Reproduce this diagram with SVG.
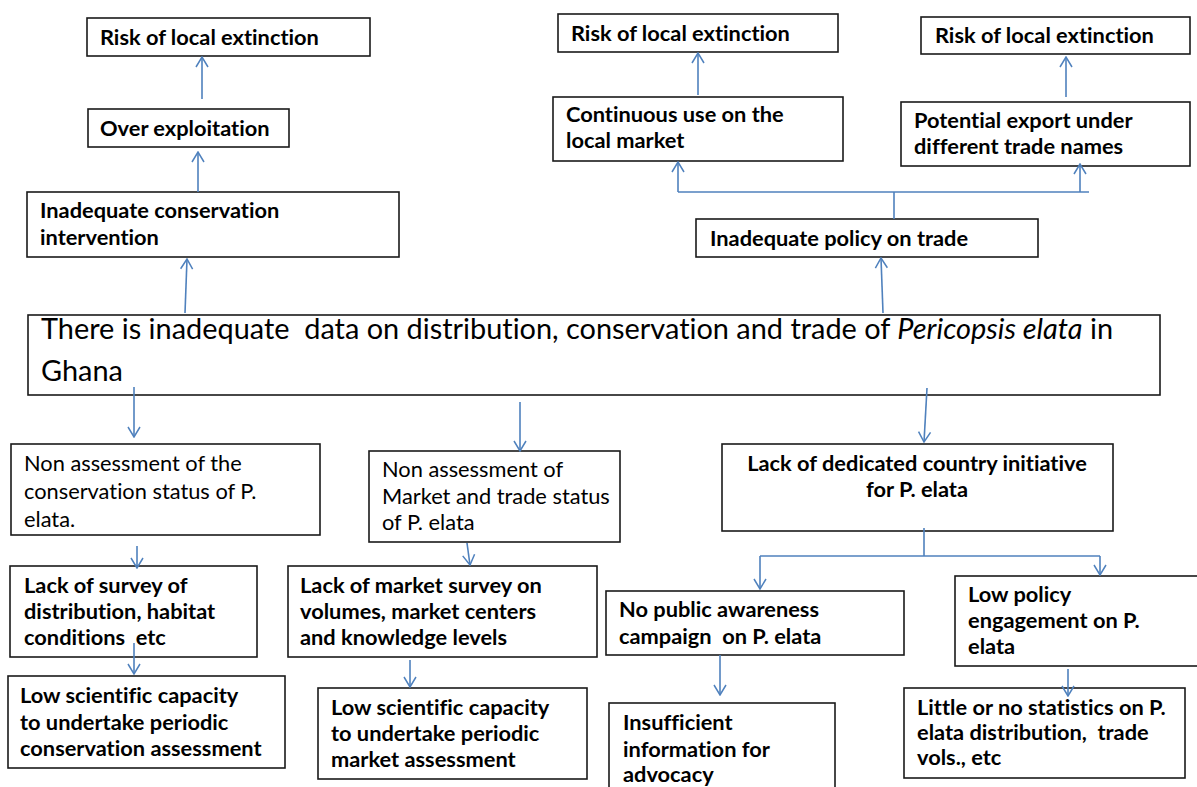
<svg xmlns="http://www.w3.org/2000/svg" width="1197" height="787" viewBox="0 0 1197 787">
<defs>
<marker id="ah" viewBox="-11 -7 12 14" refX="0" refY="0" markerWidth="12" markerHeight="14" markerUnits="userSpaceOnUse" orient="auto">
<path d="M-10,-6 L0,0 L-10,6" fill="none" stroke="#4f81bd" stroke-width="1.5"/>
</marker>
<style>
text{white-space:pre;font-variant-ligatures:none}
.box{fill:#fff;stroke:#1a1a1a;stroke-width:1.6}
.b{font-family:Lato,"Liberation Sans",sans-serif;font-weight:bold;font-size:21.8px;fill:#000}
.r{font-family:Lato,"Liberation Sans",sans-serif;font-size:21.8px;fill:#000}
.m{font-family:Lato,"Liberation Sans",sans-serif;font-size:28.9px;fill:#000}
.c{fill:none;stroke:#4f81bd;stroke-width:1.6}
.a{marker-end:url(#ah)}
</style>
</defs>
<rect width="1197" height="787" fill="#fff"/>

<g id="risk1"><rect class="box" x="87" y="18" width="283" height="38"/><text class="b" x="100" y="45">Risk of local extinction</text></g>
<g id="overexp"><rect class="box" x="88" y="109" width="201" height="38"/><text class="b" x="100" y="136">Over exploitation</text></g>
<g id="inadcons"><rect class="box" x="27" y="192" width="372" height="65"/><text class="b" x="40" y="218">Inadequate conservation</text><text class="b" x="40" y="245">intervention</text></g>

<g id="risk2"><rect class="box" x="558" y="14" width="280" height="38"/><text class="b" x="571" y="41">Risk of local extinction</text></g>
<g id="risk3"><rect class="box" x="921" y="17" width="269" height="37"/><text class="b" x="935" y="43">Risk of local extinction</text></g>
<g id="contuse"><rect class="box" x="553" y="97" width="290" height="64"/><text class="b" x="566" y="122">Continuous use on the</text><text class="b" x="566" y="148">local market</text></g>
<g id="potexp"><rect class="box" x="901" y="102" width="289" height="64"/><text class="b" x="914" y="128">Potential export under</text><text class="b" x="914" y="154">different trade names</text></g>
<g id="inadpol"><rect class="box" x="696" y="219" width="342" height="38"/><text class="b" x="710" y="246">Inadequate policy on trade</text></g>

<g id="main"><rect class="box" x="28" y="315" width="1132" height="80"/><text class="m" x="41" y="339">There is inadequate  data on distribution, conservation and trade of <tspan font-style="italic">Pericopsis elata</tspan> in</text><text class="m" x="41" y="381">Ghana</text></g>

<g id="nonassess1"><rect class="box" x="11" y="444" width="309" height="91"/><text class="r" x="24" y="471">Non assessment of the</text><text class="r" x="24" y="499">conservation status of P.</text><text class="r" x="24" y="527">elata.</text></g>
<g id="nonassess2"><rect class="box" x="369" y="451" width="251" height="91"/><text class="r" x="382" y="477">Non assessment of</text><text class="r" x="382" y="504">Market and trade status</text><text class="r" x="382" y="530">of P. elata</text></g>
<g id="lackinit"><rect class="box" x="722" y="444" width="391" height="87"/><text class="b" x="917" y="471" text-anchor="middle">Lack of dedicated country initiative</text><text class="b" x="917" y="497" text-anchor="middle">for P. elata</text></g>

<g id="lacksurvey"><rect class="box" x="10" y="566" width="247" height="91"/><text class="b" x="24" y="593">Lack of survey of</text><text class="b" x="24" y="619">distribution, habitat</text><text class="b" x="24" y="645">conditions  etc</text></g>
<g id="lackmarket"><rect class="box" x="288" y="566" width="309" height="91"/><text class="b" x="300" y="593">Lack of market survey on</text><text class="b" x="300" y="619">volumes, market centers</text><text class="b" x="300" y="645">and knowledge levels</text></g>
<g id="nopublic"><rect class="box" x="606" y="591" width="298" height="64"/><text class="b" x="619" y="617">No public awareness</text><text class="b" x="619" y="644">campaign  on P. elata</text></g>
<g id="lowpolicy"><rect class="box" x="955" y="576" width="245" height="90"/><text class="b" x="968" y="602">Low policy</text><text class="b" x="968" y="628">engagement on P.</text><text class="b" x="968" y="654">elata</text></g>

<g id="lowsci1"><rect class="box" x="8" y="676" width="277" height="92"/><text class="b" x="20" y="703">Low scientific capacity</text><text class="b" x="20" y="730">to undertake periodic</text><text class="b" x="20" y="756">conservation assessment</text></g>
<g id="lowsci2"><rect class="box" x="318" y="688" width="269" height="91"/><text class="b" x="331" y="715">Low scientific capacity</text><text class="b" x="331" y="741">to undertake periodic</text><text class="b" x="331" y="767">market assessment</text></g>
<g id="insuff"><rect class="box" x="609" y="703" width="226" height="90"/><text class="b" x="623" y="730">Insufficient</text><text class="b" x="623" y="757">information for</text><text class="b" x="623" y="782">advocacy</text></g>
<g id="little"><rect class="box" x="904" y="688" width="281" height="90"/><text class="b" x="917" y="715">Little or no statistics on P.</text><text class="b" x="917" y="740">elata distribution,  trade</text><text class="b" x="917" y="765">vols., etc</text></g>

<g id="connectors">
<line class="c a" x1="202" y1="99" x2="202" y2="57"/>
<line class="c a" x1="198" y1="192" x2="198" y2="152"/>
<line class="c a" x1="185" y1="313" x2="187" y2="259"/>
<line class="c a" x1="698" y1="95" x2="698" y2="53"/>
<line class="c a" x1="1066" y1="97" x2="1066" y2="57"/>
<line class="c" x1="894" y1="219" x2="894" y2="192"/>
<line class="c" x1="678" y1="192" x2="1089" y2="192"/>
<line class="c a" x1="678" y1="192" x2="678" y2="162"/>
<line class="c a" x1="1080" y1="192" x2="1080" y2="164"/>
<line class="c a" x1="883" y1="313" x2="881" y2="258"/>
<line class="c a" x1="134" y1="387" x2="134" y2="437"/>
<line class="c a" x1="520" y1="402" x2="520" y2="451"/>
<line class="c a" x1="927" y1="388" x2="924" y2="442"/>
<line class="c" x1="924" y1="528" x2="924" y2="556"/>
<line class="c" x1="760" y1="556" x2="1100" y2="556"/>
<line class="c a" x1="760" y1="556" x2="760" y2="589"/>
<line class="c a" x1="1100" y1="556" x2="1100" y2="575"/>
<line class="c a" x1="137" y1="546" x2="137" y2="568"/>
<line class="c a" x1="467" y1="543" x2="470" y2="565"/>
<line class="c a" x1="134" y1="643" x2="134" y2="674"/>
<line class="c a" x1="410" y1="660" x2="410" y2="687"/>
<line class="c a" x1="720" y1="655" x2="720" y2="695"/>
<line class="c a" x1="1068" y1="669" x2="1068" y2="696"/>
</g>
</svg>
